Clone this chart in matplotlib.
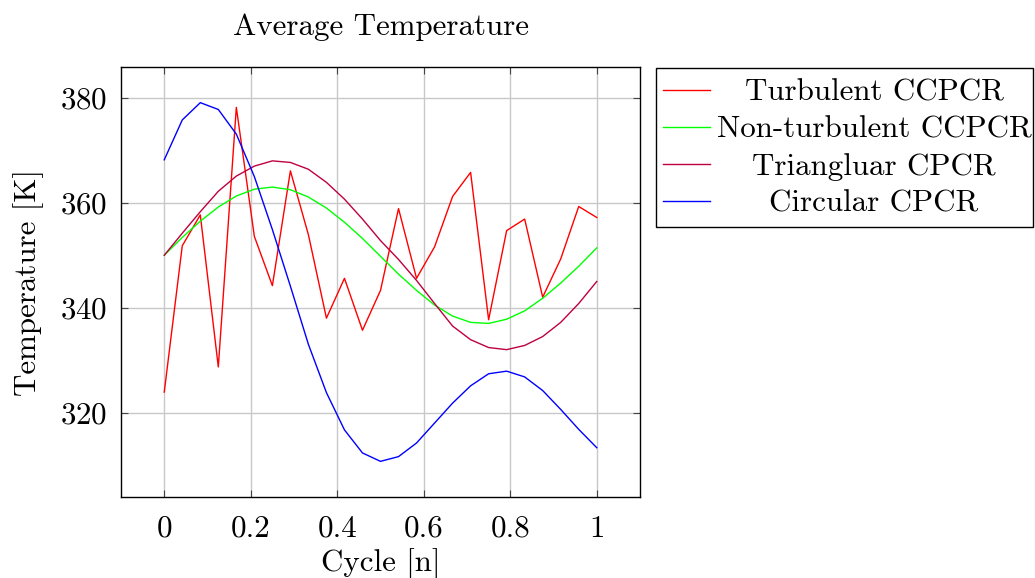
import matplotlib
matplotlib.use("Agg")
import matplotlib.pyplot as plt
from matplotlib.lines import Line2D
from matplotlib.patches import Rectangle
import numpy as np

plt.rcParams['font.family'] = ['cmr10', 'DejaVu Serif']
plt.rcParams['mathtext.fontset'] = 'cm'
plt.rcParams['axes.formatter.use_mathtext'] = True

# cycle positions: 25 samples over one cycle
cycle = np.linspace(0, 1, 25)

turbulent = [323.9, 351.8, 357.7, 328.7, 378.2, 353.6, 344.2, 366.1, 353.9, 338.0,
             345.6, 335.7, 343.3, 358.9, 345.6, 351.6, 361.2, 365.8, 337.7, 354.7,
             356.9, 342.0, 349.3, 359.3, 357.2]
non_turbulent = [350.0, 353.4, 356.5, 359.2, 361.3, 362.6, 363.0, 362.5, 361.1, 359.0,
                 356.3, 353.2, 349.8, 346.4, 343.3, 340.5, 338.4, 337.2, 337.0, 337.8,
                 339.4, 341.8, 344.7, 347.9, 351.4]
triangular = [350.0, 354.2, 358.3, 362.2, 365.1, 367.0, 368.0, 367.7, 366.4, 363.9,
              360.7, 356.9, 352.8, 349.2, 345.2, 340.8, 336.5, 333.9, 332.4, 332.0,
              332.8, 334.5, 337.2, 340.8, 345.0]
circular = [368.2, 375.8, 379.1, 377.8, 373.1, 365.0, 354.9, 344.1, 333.0, 323.8,
            316.7, 312.3, 310.7, 311.6, 314.2, 318.0, 321.8, 325.1, 327.4, 327.9,
            326.8, 324.2, 320.6, 316.8, 313.3]

labels = ['Turbulent CCPCR', 'Non-turbulent CCPCR', 'Triangluar CPCR', 'Circular CPCR']
colors = ['#ff0000', '#00ff00', '#bf0040', '#0000ff']
series = [turbulent, non_turbulent, triangular, circular]

xticks = [0, 0.2, 0.4, 0.6, 0.8, 1]
xticklabels = ['0', '0.2', '0.4', '0.6', '0.8', '1']
yticks = [320, 340, 360, 380]

FS = 22.3
W, H = 1035, 578
fig = plt.figure(figsize=(W / 100, H / 100), dpi=100)
ax = fig.add_axes([121 / W, 1 - 497 / H, (640 - 121) / W, (497 - 67) / H])

for y, c in zip(series, colors):
    ax.plot(cycle, y, color=c, lw=1.0)

ax.set_xlim(-0.1, 1.1)
ax.set_ylim(303.9, 385.9)
ax.set_xticks(xticks)
ax.set_xticklabels(xticklabels)
ax.set_yticks(yticks)
ax.grid(True, color='#c8c8c8', lw=1.0)
ax.set_axisbelow(True)
ax.tick_params(direction='in', length=5, width=0.8, color='#444444',
               top=True, right=True, labelsize=FS)
ax.tick_params(axis='x', pad=13)
ax.tick_params(axis='y', pad=10)
for s in ax.spines.values():
    s.set_linewidth(1.0)

ax.set_title('Average Temperature', fontsize=FS, y=1.093, va='center', pad=0)
ax.set_xlabel('Cycle [n]', fontsize=FS, va='center')
ax.xaxis.set_label_coords(0.5, -0.155)
ax.set_ylabel('Temperature [K]', fontsize=FS, va='center')
ax.yaxis.set_label_coords(-0.179, 0.5)

# legend drawn by hand so the labels can be centred like in pgfplots
fig.patches.append(Rectangle((656 / W, 1 - 227 / H), (1033 - 656) / W, (227 - 68) / H,
                             transform=fig.transFigure, fill=False, lw=1.0,
                             edgecolor='black'))
rows = [90, 127, 164, 201]
for lab, c, r in zip(labels, colors, rows):
    fig.lines.append(Line2D([663 / W, 710 / W], [1 - r / H, 1 - r / H],
                            transform=fig.transFigure, color=c, lw=1.0))
    fig.text(874 / W, 1 - r / H, lab, ha='center', va='center_baseline', fontsize=FS)

fig.savefig('out.png', dpi=100)
